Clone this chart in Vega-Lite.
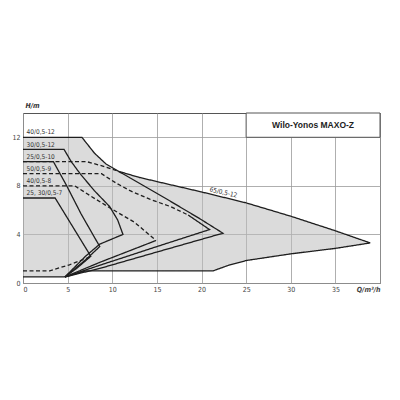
{
  "$schema": "https://vega.github.io/schema/vega-lite/v6.json",
  "width": 357,
  "height": 170,
  "autosize": {"type": "none"},
  "padding": {"left": 23, "top": 113, "right": 20, "bottom": 117},
  "background": "white",
  "datasets": {
    "region": [
      {"x": 0, "top": 12, "bot": 0.5},
      {"x": 4.7, "top": 12, "bot": 0.5},
      {"x": 6.6, "top": 12, "bot": 0.91},
      {"x": 7, "top": 11.65, "bot": 1.0},
      {"x": 8, "top": 10.7, "bot": 1.0},
      {"x": 9.3, "top": 9.8, "bot": 1.0},
      {"x": 10.7, "top": 9.2, "bot": 1.0},
      {"x": 13, "top": 8.7, "bot": 1.0},
      {"x": 15.9, "top": 8.2, "bot": 1.0},
      {"x": 20, "top": 7.5, "bot": 1.0},
      {"x": 21.3, "top": 7.27, "bot": 1.0},
      {"x": 23, "top": 6.96, "bot": 1.45},
      {"x": 25, "top": 6.6, "bot": 1.85},
      {"x": 30, "top": 5.5, "bot": 2.4},
      {"x": 35, "top": 4.3, "bot": 2.85},
      {"x": 38.9, "top": 3.3, "bot": 3.3}
    ],
    "curves": [
      {"c": "s12", "d": "solid", "i": 0, "x": 0, "y": 12},
      {"c": "s12", "d": "solid", "i": 1, "x": 6.6, "y": 12},
      {"c": "s12", "d": "solid", "i": 2, "x": 8, "y": 10.7},
      {"c": "s12", "d": "solid", "i": 3, "x": 9.3, "y": 9.8},
      {"c": "s12", "d": "solid", "i": 4, "x": 10.7, "y": 9.2},
      {"c": "s12", "d": "solid", "i": 5, "x": 12, "y": 8.65},
      {"c": "s12", "d": "solid", "i": 6, "x": 15.9, "y": 7.0},
      {"c": "s12", "d": "solid", "i": 7, "x": 19.8, "y": 5.3},
      {"c": "s12", "d": "solid", "i": 8, "x": 22.4, "y": 4.1},
      {"c": "s12", "d": "solid", "i": 9, "x": 15, "y": 2.55},
      {"c": "s12", "d": "solid", "i": 10, "x": 8.6, "y": 1.2},
      {"c": "s12", "d": "solid", "i": 11, "x": 4.7, "y": 0.5},

      {"c": "s65", "d": "solid", "i": 0, "x": 10.7, "y": 9.2},
      {"c": "s65", "d": "solid", "i": 1, "x": 13, "y": 8.7},
      {"c": "s65", "d": "solid", "i": 2, "x": 15.9, "y": 8.2},
      {"c": "s65", "d": "solid", "i": 3, "x": 20, "y": 7.5},
      {"c": "s65", "d": "solid", "i": 4, "x": 25, "y": 6.6},
      {"c": "s65", "d": "solid", "i": 5, "x": 30, "y": 5.5},
      {"c": "s65", "d": "solid", "i": 6, "x": 35, "y": 4.3},
      {"c": "s65", "d": "solid", "i": 7, "x": 38.9, "y": 3.3},
      {"c": "s65", "d": "solid", "i": 8, "x": 35, "y": 2.85},
      {"c": "s65", "d": "solid", "i": 9, "x": 30, "y": 2.4},
      {"c": "s65", "d": "solid", "i": 10, "x": 25, "y": 1.85},
      {"c": "s65", "d": "solid", "i": 11, "x": 23, "y": 1.45},
      {"c": "s65", "d": "solid", "i": 12, "x": 21.3, "y": 1.0},
      {"c": "s65", "d": "solid", "i": 13, "x": 7, "y": 1.0},
      {"c": "s65", "d": "solid", "i": 14, "x": 4.7, "y": 0.5},

      {"c": "s11", "d": "solid", "i": 0, "x": 0, "y": 11},
      {"c": "s11", "d": "solid", "i": 1, "x": 4.6, "y": 11},
      {"c": "s11", "d": "solid", "i": 2, "x": 5.4, "y": 10},
      {"c": "s11", "d": "solid", "i": 3, "x": 6.4, "y": 9.0},
      {"c": "s11", "d": "solid", "i": 4, "x": 8, "y": 7.6},
      {"c": "s11", "d": "solid", "i": 5, "x": 9.7, "y": 6.3},
      {"c": "s11", "d": "solid", "i": 6, "x": 10.6, "y": 5.2},
      {"c": "s11", "d": "solid", "i": 7, "x": 11.2, "y": 4.0},
      {"c": "s11", "d": "solid", "i": 8, "x": 8.6, "y": 3.2},
      {"c": "s11", "d": "solid", "i": 9, "x": 7, "y": 2.2},
      {"c": "s11", "d": "solid", "i": 10, "x": 4.7, "y": 0.5},

      {"c": "s10", "d": "solid", "i": 0, "x": 0, "y": 10},
      {"c": "s10", "d": "solid", "i": 1, "x": 3.4, "y": 10},
      {"c": "s10", "d": "solid", "i": 2, "x": 4.9, "y": 8.0},
      {"c": "s10", "d": "solid", "i": 3, "x": 6.5, "y": 5.7},
      {"c": "s10", "d": "solid", "i": 4, "x": 8.6, "y": 3.0},
      {"c": "s10", "d": "solid", "i": 5, "x": 7, "y": 1.9},
      {"c": "s10", "d": "solid", "i": 6, "x": 4.7, "y": 0.5},

      {"c": "s7", "d": "solid", "i": 0, "x": 0, "y": 7},
      {"c": "s7", "d": "solid", "i": 1, "x": 3.6, "y": 7},
      {"c": "s7", "d": "solid", "i": 2, "x": 5.6, "y": 4.6},
      {"c": "s7", "d": "solid", "i": 3, "x": 7.6, "y": 2.2},
      {"c": "s7", "d": "solid", "i": 4, "x": 6, "y": 1.2},
      {"c": "s7", "d": "solid", "i": 5, "x": 4.7, "y": 0.5},

      {"c": "base", "d": "solid", "i": 0, "x": 0, "y": 0.5},
      {"c": "base", "d": "solid", "i": 1, "x": 4.7, "y": 0.5},

      {"c": "d10", "d": "dashed", "i": 0, "x": 0, "y": 10},
      {"c": "d10", "d": "dashed", "i": 1, "x": 7.1, "y": 10},
      {"c": "d10", "d": "dashed", "i": 2, "x": 8.6, "y": 9.7},
      {"c": "d10", "d": "dashed", "i": 3, "x": 10.7, "y": 9.2},

      {"c": "d9", "d": "dashed", "i": 0, "x": 0, "y": 9},
      {"c": "d9", "d": "dashed", "i": 1, "x": 8.8, "y": 9},
      {"c": "d9", "d": "dashed", "i": 2, "x": 10.5, "y": 8.2},
      {"c": "d9", "d": "dashed", "i": 3, "x": 12, "y": 7.6},
      {"c": "d9", "d": "dashed", "i": 4, "x": 14.2, "y": 6.9},
      {"c": "d9", "d": "dashed", "i": 5, "x": 16.5, "y": 6.3},
      {"c": "d9", "d": "dashed", "i": 6, "x": 18.5, "y": 5.6},
      {"c": "s9", "d": "solid", "i": 0, "x": 18.5, "y": 5.6},
      {"c": "s9", "d": "solid", "i": 1, "x": 20.9, "y": 4.4},
      {"c": "s9", "d": "solid", "i": 2, "x": 15, "y": 3.0},
      {"c": "s9", "d": "solid", "i": 3, "x": 8.6, "y": 1.46},
      {"c": "s9", "d": "solid", "i": 4, "x": 4.7, "y": 0.5},

      {"c": "d8", "d": "dashed", "i": 0, "x": 0, "y": 8},
      {"c": "d8", "d": "dashed", "i": 1, "x": 5.8, "y": 8},
      {"c": "d8", "d": "dashed", "i": 2, "x": 7.5, "y": 7.2},
      {"c": "d8", "d": "dashed", "i": 3, "x": 9.7, "y": 6.2},
      {"c": "d8", "d": "dashed", "i": 4, "x": 12.5, "y": 5.0},
      {"c": "d8", "d": "dashed", "i": 5, "x": 14.9, "y": 3.5},
      {"c": "s8", "d": "solid", "i": 0, "x": 14.9, "y": 3.5},
      {"c": "s8", "d": "solid", "i": 1, "x": 8.6, "y": 1.7},
      {"c": "s8", "d": "solid", "i": 2, "x": 4.7, "y": 0.5},

      {"c": "dbase", "d": "dashed", "i": 0, "x": 0, "y": 1.0},
      {"c": "dbase", "d": "dashed", "i": 1, "x": 3, "y": 1.0},
      {"c": "dbase", "d": "dashed", "i": 2, "x": 5.2, "y": 1.5},
      {"c": "dbase", "d": "dashed", "i": 3, "x": 7.7, "y": 2.2}
    ],
    "labels": [
      {"t": "40/0,5-12", "x": 0.4, "y": 12.4},
      {"t": "30/0,5-12", "x": 0.4, "y": 11.4},
      {"t": "25/0,5-10", "x": 0.4, "y": 10.4},
      {"t": "50/0,5-9", "x": 0.4, "y": 9.4},
      {"t": "40/0,5-8", "x": 0.4, "y": 8.4},
      {"t": "25, 30/0,5-7", "x": 0.4, "y": 7.4}
    ]
  },
  "layer": [
    {
      "data": {"name": "region"},
      "mark": {"type": "area", "color": "#bdbdbd", "opacity": 0.55},
      "encoding": {
        "x": {
          "field": "x",
          "type": "quantitative",
          "scale": {"domain": [0, 40], "nice": false, "zero": false},
          "axis": {
            "values": [0, 5, 10, 15, 20, 25, 30, 35, 40],
            "title": null,
            "grid": true,
            "gridColor": "#9a9a9a",
            "gridWidth": 0.8,
            "domain": false,
            "ticks": false,
            "labelPadding": 2,
            "labelFontSize": 7,
            "labelColor": "#444",
            "labelFont": "Liberation Sans Narrow, DejaVu Sans Condensed, sans-serif",
            "labelExpr": "datum.value == 40 ? 'Q/m³/h' : datum.label",
            "labelFontWeight": {"condition": {"test": "datum.value == 40", "value": "bold"}, "value": "normal"},
            "labelFontStyle": {"condition": {"test": "datum.value == 40", "value": "italic"}, "value": "normal"}
          }
        },
        "y": {
          "field": "top",
          "type": "quantitative",
          "scale": {"domain": [0, 14], "nice": false, "zero": false},
          "axis": {
            "values": [0, 2, 4, 6, 8, 10, 12, 14],
            "title": "H/m",
            "titleAngle": 0,
            "titleAlign": "left",
            "titleBaseline": "bottom",
            "titleX": 2,
            "titleY": -5,
            "titleFontSize": 7,
            "titleFontStyle": "italic",
            "titleFontWeight": "bold",
            "titleColor": "#333",
            "titleFont": "Liberation Sans Narrow, DejaVu Sans Condensed, sans-serif",
            "grid": true,
            "gridColor": "#9a9a9a",
            "gridWidth": 0.8,
            "domain": false,
            "ticks": false,
            "labelPadding": 3,
            "labelFontSize": 7,
            "labelColor": "#444",
            "labelFont": "Liberation Sans Narrow, DejaVu Sans Condensed, sans-serif",
            "labelExpr": "datum.value == 14 ? '' : datum.label"
          }
        },
        "y2": {"field": "bot"}
      }
    },
    {
      "data": {"values": [{"x": 25, "x2": 40, "y": 12, "y2": 14}]},
      "mark": {"type": "rect", "fill": "white", "stroke": "#555", "strokeWidth": 1},
      "encoding": {
        "x": {"field": "x", "type": "quantitative"},
        "x2": {"field": "x2"},
        "y": {"field": "y", "type": "quantitative"},
        "y2": {"field": "y2"}
      }
    },
    {
      "data": {"values": [{"t": "Wilo-Yonos MAXO-Z", "x": 32.5, "y": 13}]},
      "mark": {"type": "text", "font": "Liberation Sans, sans-serif", "fontSize": 8.5, "fontWeight": "bold", "color": "#222", "align": "center", "baseline": "middle"},
      "encoding": {
        "x": {"field": "x", "type": "quantitative"},
        "y": {"field": "y", "type": "quantitative"},
        "text": {"field": "t"}
      }
    },
    {
      "data": {"name": "curves"},
      "mark": {"type": "line", "color": "#1e1e1e", "strokeWidth": 1.3},
      "encoding": {
        "x": {"field": "x", "type": "quantitative"},
        "y": {"field": "y", "type": "quantitative"},
        "detail": {"field": "c"},
        "order": {"field": "i"},
        "strokeDash": {
          "field": "d",
          "type": "nominal",
          "scale": {"domain": ["solid", "dashed"], "range": [[1, 0], [4, 2.5]]},
          "legend": null
        }
      }
    },
    {
      "data": {"name": "labels"},
      "mark": {"type": "text", "font": "Liberation Sans Narrow, DejaVu Sans Condensed, sans-serif", "fontSize": 6.5, "color": "#333", "align": "left", "baseline": "middle"},
      "encoding": {
        "x": {"field": "x", "type": "quantitative"},
        "y": {"field": "y", "type": "quantitative"},
        "text": {"field": "t"}
      }
    },
    {
      "data": {"values": [{"t": "65/0,5-12", "x": 22.45, "y": 7.45}]},
      "mark": {"type": "text", "font": "Liberation Sans Narrow, DejaVu Sans Condensed, sans-serif", "fontSize": 6.5, "color": "#333", "align": "center", "baseline": "middle", "angle": 13},
      "encoding": {
        "x": {"field": "x", "type": "quantitative"},
        "y": {"field": "y", "type": "quantitative"},
        "text": {"field": "t"}
      }
    }
  ],
  "config": {
    "view": {"stroke": "#555", "strokeWidth": 1}
  }
}
